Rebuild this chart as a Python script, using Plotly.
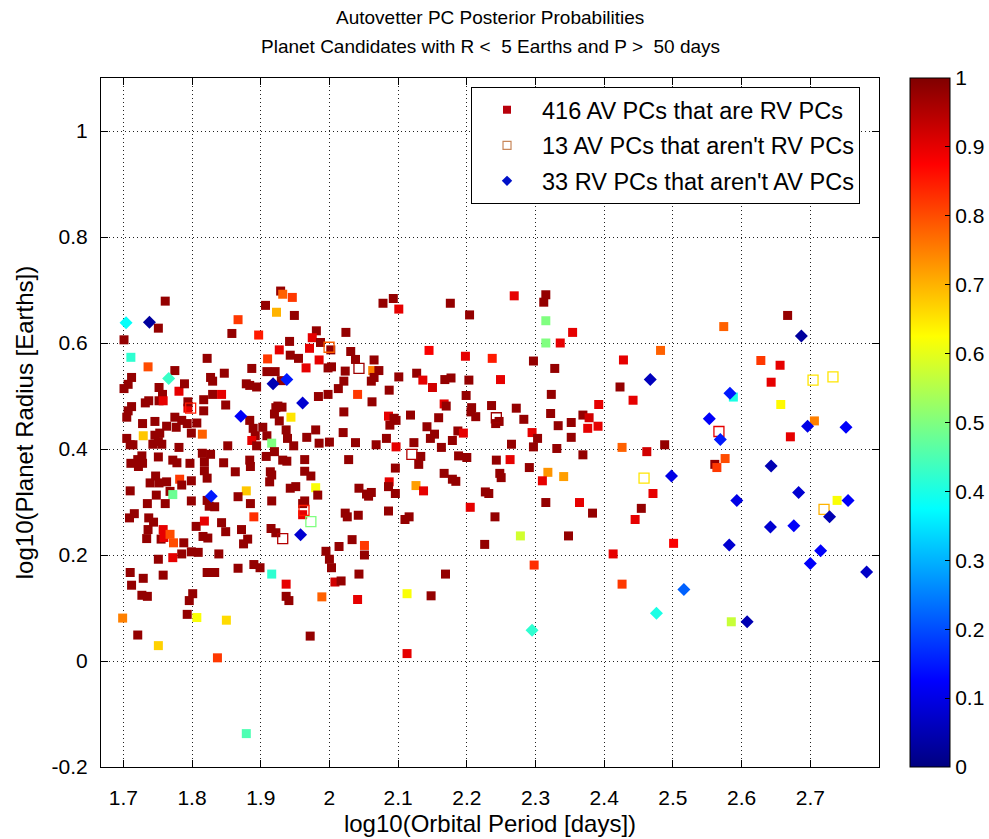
import plotly.graph_objects as go

D = 0.98
R = 0.9

# ---- filled squares: AV PCs that are RV PCs ----
sq_x = [
    1.761,1.751,1.701,1.711,1.736,1.775,1.712,1.707,1.701,1.752,
    1.781,1.789,1.757,1.752,1.758,1.732,1.737,1.712,1.707,1.705,
    1.794,1.794,1.884,1.775,1.785,1.822,1.847,1.827,1.830,1.830,
    1.843,1.849,1.817,1.817,1.867,1.858,1.897,1.887,1.879,1.884,
    1.894,1.929,1.932,1.946,1.907,1.923,1.949,1.942,1.927,1.910,
    1.943,1.955,1.966,1.909,1.921,1.930,1.922,1.925,1.931,1.920,
    1.927,1.944,1.981,1.975,1.987,1.971,1.985,2.002,1.998,2.003,
    2.024,2.031,2.038,2.023,2.021,2.013,1.984,1.998,2.041,2.021,
    2.078,2.093,2.101,2.176,2.204,2.269,2.315,2.312,2.315,2.315,
    2.336,2.354,2.145,2.198,2.237,2.297,2.328,2.428,2.065,2.063,
    2.072,2.065,2.061,2.101,2.127,2.136,2.150,2.168,2.177,2.203,
    2.249,2.087,2.062,2.199,2.167,2.170,2.207,2.206,2.213,2.236,
    2.272,2.283,2.323,2.322,2.392,2.369,2.378,2.086,2.094,2.097,
    2.118,2.159,2.423,
    2.482,2.442,2.574,2.667,2.588,2.628,2.656,2.643,2.657,2.706,
    1.728,1.746,1.763,1.777,1.793,1.807,1.889,1.892,1.903,1.909,
    1.887,1.894,1.937,1.939,1.948,1.916,1.920,1.967,1.980,1.985,
    2.000,2.020,2.038,1.705,1.710,1.714,1.729,1.746,1.753,1.751,
    1.743,1.756,1.781,1.799,1.815,1.852,1.815,1.827,1.818,1.818,
    1.822,1.846,1.863,1.884,1.885,1.908,1.914,1.913,1.916,1.932,
    1.938,1.964,1.964,1.973,2.028,2.043,2.054,1.711,1.721,1.727,
    1.728,1.722,1.751,1.772,1.778,1.797,1.747,1.739,1.752,1.763,
    1.782,1.785,1.799,1.710,1.768,1.772,1.748,1.735,1.761,1.799,
    1.822,1.825,1.833,1.879,1.867,1.885,1.916,1.943,1.951,1.980,
    1.983,1.964,1.961,1.961,1.915,1.922,1.709,1.716,1.737,1.744,
    1.758,1.736,1.734,1.755,1.759,1.768,1.773,1.788,1.785,1.799,
    1.809,1.772,1.751,1.806,1.818,1.816,1.823,1.843,1.849,1.839,
    1.890,1.872,1.881,1.875,1.995,2.000,2.014,2.033,2.023,2.026,
    2.042,2.051,2.051,
    2.088,2.142,2.153,2.147,2.187,2.195,2.179,2.242,2.247,2.295,
    2.303,2.333,2.352,2.352,2.376,2.391,2.083,2.068,2.097,2.123,
    2.133,2.130,2.163,2.188,2.200,2.265,2.297,2.331,2.243,2.263,
    2.291,2.248,2.250,2.369,2.318,2.341,2.310,2.096,2.167,2.179,
    2.184,2.087,2.086,2.126,2.137,2.096,2.061,2.057,2.227,2.232,
    2.315,2.364,2.383,2.205,2.086,2.110,2.116,2.241,2.278,2.348,
    2.226,2.413,2.426,
    2.671,2.488,2.462,2.561,2.576,2.564,2.471,2.454,2.445,2.739,2.501,
    1.710,1.729,1.712,1.758,1.727,1.735,1.796,1.801,1.793,1.807,
    1.850,1.699,1.721,1.751,1.837,1.879,1.822,1.833,1.867,1.890,
    1.899,1.916,1.937,1.937,1.941,1.989,1.972,2.003,2.008,2.017,
    2.043,2.041,
    2.169,2.113,2.148,2.113,2.298,2.426,2.585,
]
sq_y = [
    0.679,0.628,0.606,0.573,0.555,0.548,0.535,0.522,0.514,0.516,
    0.509,0.523,0.503,0.491,0.491,0.487,0.491,0.480,0.472,0.460,
    0.477,0.489,0.454,0.460,0.454,0.571,0.543,0.535,0.528,0.503,
    0.503,0.483,0.493,0.472,0.644,0.618,0.615,0.552,0.523,0.520,
    0.517,0.698,0.692,0.686,0.671,0.658,0.652,0.603,0.587,0.570,
    0.577,0.571,0.553,0.546,0.546,0.529,0.478,0.481,0.479,0.466,
    0.453,0.460,0.623,0.610,0.601,0.590,0.568,0.587,0.553,0.555,
    0.620,0.584,0.569,0.547,0.528,0.514,0.499,0.503,0.503,0.470,
    0.675,0.684,0.664,0.675,0.653,0.689,0.691,0.677,0.642,0.600,
    0.600,0.620,0.586,0.575,0.571,0.566,0.552,0.568,0.568,0.548,
    0.548,0.535,0.528,0.536,0.543,0.530,0.516,0.531,0.534,0.530,
    0.531,0.511,0.489,0.501,0.485,0.481,0.478,0.470,0.461,0.482,
    0.477,0.456,0.503,0.467,0.484,0.464,0.459,0.462,0.458,0.454,
    0.464,0.459,0.517,
    0.586,0.492,0.631,0.652,0.498,0.567,0.558,0.526,0.484,0.453,
    0.448,0.452,0.443,0.441,0.448,0.449,0.439,0.425,0.441,0.425,
    0.416,0.406,0.436,0.420,0.406,0.411,0.395,0.422,0.436,0.411,
    0.413,0.431,0.412,0.420,0.408,0.408,0.425,0.426,0.430,0.414,
    0.409,0.409,0.403,0.430,0.428,0.406,0.392,0.390,0.376,0.359,
    0.345,0.374,0.357,0.379,0.367,0.386,0.357,0.338,0.351,0.379,
    0.377,0.380,0.358,0.349,0.380,0.326,0.315,0.373,0.380,0.387,
    0.373,0.367,0.385,0.379,0.374,0.373,0.349,0.336,0.336,0.338,
    0.343,0.332,0.340,0.321,0.320,0.314,0.313,0.297,0.297,0.302,
    0.303,0.292,0.291,0.321,0.310,0.297,0.302,0.326,0.329,0.327,
    0.313,0.302,0.297,0.276,0.250,0.242,0.270,0.278,0.270,0.262,
    0.248,0.248,0.231,0.230,0.233,0.239,0.223,0.223,0.202,0.206,
    0.205,0.195,0.192,0.254,0.264,0.235,0.232,0.261,0.244,0.202,
    0.272,0.248,0.230,0.221,0.207,0.192,0.216,0.229,0.279,0.272,
    0.275,0.218,0.200,
    0.445,0.442,0.428,0.420,0.434,0.430,0.416,0.448,0.452,0.431,
    0.420,0.444,0.450,0.422,0.439,0.443,0.420,0.408,0.404,0.412,
    0.386,0.371,0.403,0.387,0.384,0.409,0.404,0.401,0.379,0.380,
    0.365,0.354,0.346,0.389,0.356,0.348,0.340,0.364,0.354,0.343,
    0.339,0.338,0.329,0.331,0.321,0.316,0.318,0.311,0.319,0.316,
    0.299,0.299,0.279,0.290,0.283,0.267,0.272,0.272,0.236,0.236,
    0.220,0.202,0.403,
    0.423,0.408,0.395,0.371,0.382,0.365,0.316,0.288,0.267,0.303,0.222,
    0.167,0.156,0.143,0.162,0.124,0.122,0.114,0.127,0.088,0.082,
    0.077,0.081,0.049,0.029,0.006,-0.137,0.167,0.167,0.175,0.182,
    0.176,0.164,0.145,0.122,0.114,0.121,0.047,0.176,0.149,0.151,
    0.164,0.116,
    0.164,0.127,0.123,0.014,0.181,0.145,0.074,
]
sq_p = [
    D,D,D,0.42,0.8,D,D,D,D,D,
    R,D,D,D,R,D,D,D,D,D,
    R,D,D,D,D,D,D,D,D,D,
    R,D,D,D,0.82,D,0.85,D,D,D,
    D,D,0.78,0.82,D,0.7,D,D,R,0.82,
    D,D,R,D,D,D,D,D,D,D,
    D,0.65,D,R,D,R,R,D,D,D,
    D,D,D,D,D,D,D,D,0.82,D,
    D,D,R,D,D,R,D,D,0.5,0.5,
    R,R,0.88,R,0.85,D,D,R,D,0.75,
    D,D,D,D,D,R,0.92,D,D,D,
    R,D,D,D,R,D,D,D,D,D,
    D,D,D,D,R,D,0.92,R,D,D,
    D,D,D,
    0.78,R,0.78,D,0.4,0.82,R,R,0.63,0.75,
    D,D,D,D,D,D,D,D,D,D,
    R,D,D,D,D,0.5,D,D,D,D,
    D,D,D,D,D,D,0.68,D,D,D,
    D,D,D,D,0.78,D,D,D,D,D,
    D,D,D,D,D,D,D,D,D,D,
    D,D,D,D,D,D,D,D,D,D,
    D,D,D,D,D,D,D,D,D,D,
    0.82,D,D,D,D,0.48,D,D,D,D,
    D,D,D,0.68,D,D,D,D,D,0.62,
    D,D,D,R,D,D,D,D,D,D,
    R,D,D,D,R,0.8,0.8,D,D,D,
    D,R,D,D,R,D,D,D,D,D,
    0.83,D,D,D,D,D,D,D,D,D,
    D,0.82,D,
    D,D,D,D,D,R,D,D,D,R,
    D,D,D,D,R,R,D,D,R,D,
    D,D,D,D,D,D,D,D,D,R,
    D,D,D,D,0.73,0.72,R,D,D,D,
    D,R,D,0.72,R,D,D,D,D,D,
    D,R,D,R,D,D,D,D,0.58,D,
    D,R,0.78,
    R,D,0.92,D,0.8,0.82,R,D,R,0.62,0.88,
    D,D,D,D,D,D,D,D,D,0.62,
    0.66,0.75,D,0.67,0.82,0.45,D,D,D,D,
    D,0.42,R,D,D,0.78,D,D,0.92,D,
    D,R,
    D,0.62,D,R,0.83,0.82,0.57,
]

# ---- open squares: AV PCs that aren't RV PCs ----
op_x = [1.798, 1.9995, 2.043, 2.243, 2.704, 2.733, 1.963, 1.973, 1.932, 2.120, 2.567, 2.458, 2.720]
op_y = [0.477, 0.592, 0.552, 0.459, 0.530, 0.536, 0.284, 0.263, 0.231, 0.390, 0.433, 0.345, 0.286]
op_p = [0.85, 0.78, 0.97, 0.97, 0.65, 0.65, 0.85, 0.5, 0.95, 0.95, 0.9, 0.65, 0.7]

# ---- diamonds: RV PCs that aren't AV PCs ----
dm_x = [1.704, 1.738, 1.766, 1.871, 1.918, 1.938, 1.961, 2.467, 2.687, 2.583, 2.553,
        1.828, 1.958, 2.569, 2.696, 2.752, 2.643, 2.498, 2.593, 2.683, 2.755, 2.728,
        2.642, 2.676, 2.582, 2.715, 2.295, 2.516, 2.476, 2.608, 2.700, 2.782]
dm_y = [0.638, 0.639, 0.533, 0.462, 0.523, 0.531, 0.487, 0.531, 0.613, 0.505, 0.457,
        0.311, 0.238, 0.418, 0.443, 0.441, 0.368, 0.349, 0.303, 0.318, 0.303, 0.272,
        0.253, 0.255, 0.219, 0.208, 0.058, 0.135, 0.090, 0.074, 0.184, 0.168]
dm_p = [0.38, 0.03, 0.43, 0.12, 0.05, 0.15, 0.08, 0.06, 0.03, 0.15, 0.12,
        0.15, 0.08, 0.15, 0.1, 0.12, 0.05, 0.1, 0.1, 0.08, 0.12, 0.05,
        0.08, 0.12, 0.08, 0.12, 0.42, 0.22, 0.4, 0.05, 0.12, 0.07]

title_lines = ["Autovetter PC Posterior Probabilities",
               "Planet Candidates with R &lt;\u00a0 5 Earths and P &gt;\u00a0 50 days"]
legend_names = ["416 AV PCs that are RV PCs",
                "13 AV PCs that aren't RV PCs",
                "33 RV PCs that aren't AV PCs"]

x_ticks = [1.7, 1.8, 1.9, 2.0, 2.1, 2.2, 2.3, 2.4, 2.5, 2.6, 2.7]
x_ticktext = ["1.7", "1.8", "1.9", "2", "2.1", "2.2", "2.3", "2.4", "2.5", "2.6", "2.7"]
y_ticks = [-0.2, 0.0, 0.2, 0.4, 0.6, 0.8, 1.0]
y_ticktext = ["-0.2", "0", "0.2", "0.4", "0.6", "0.8", "1"]
cb_ticks = [0, 0.1, 0.2, 0.3, 0.4, 0.5, 0.6, 0.7, 0.8, 0.9, 1.0]
cb_ticktext = ["0", "0.1", "0.2", "0.3", "0.4", "0.5", "0.6", "0.7", "0.8", "0.9", "1"]

jet = [[0.0, "rgb(0,0,128)"], [0.125, "rgb(0,0,255)"], [0.375, "rgb(0,255,255)"],
       [0.625, "rgb(255,255,0)"], [0.875, "rgb(255,0,0)"], [1.0, "rgb(128,0,0)"]]

FONT = "Liberation Sans, Arial, Helvetica, sans-serif"

fig = go.Figure()
fig.add_trace(go.Scatter(
    x=sq_x, y=sq_y, mode="markers", showlegend=False, hoverinfo="skip",
    marker=dict(symbol="square", size=9, color=sq_p, coloraxis="coloraxis",
                line=dict(width=0))))
fig.add_trace(go.Scatter(
    x=op_x, y=op_y, mode="markers", showlegend=False, hoverinfo="skip",
    marker=dict(symbol="square-open", size=10, color=op_p, coloraxis="coloraxis",
                line=dict(width=1.3))))
fig.add_trace(go.Scatter(
    x=dm_x, y=dm_y, mode="markers", showlegend=False, hoverinfo="skip",
    marker=dict(symbol="diamond", size=10, color=dm_p, coloraxis="coloraxis",
                line=dict(width=0))))

# legend swatches
fig.add_trace(go.Scatter(x=[None], y=[None], mode="markers", name=legend_names[0],
                         legendgroup="a",
                         marker=dict(symbol="square", size=8, color="#b8000c")))
fig.add_trace(go.Scatter(x=[None], y=[None], mode="markers", name=legend_names[1],
                         legendgroup="b",
                         marker=dict(symbol="square-open", size=8, color="#c8875a",
                                     line=dict(width=1.2))))
fig.add_trace(go.Scatter(x=[None], y=[None], mode="markers", name=legend_names[2],
                         legendgroup="c",
                         marker=dict(symbol="diamond", size=8, color="#0010c8")))

axis_common = dict(
    ticks="inside", ticklen=7, tickcolor="black", tickwidth=1,
    showline=True, linecolor="black", linewidth=1, mirror="ticks",
    showgrid=True, gridcolor="#222222", gridwidth=1, griddash="1px,3px",
    zeroline=False, tickfont=dict(size=21, family=FONT, color="black"),
)

fig.update_layout(
    width=989, height=839,
    margin=dict(l=101, r=110, t=78, b=72, autoexpand=False),
    paper_bgcolor="white", plot_bgcolor="white",
    font=dict(family=FONT, size=20, color="black"),
    xaxis=dict(range=[1.6675, 2.8], tickvals=x_ticks, ticktext=x_ticktext,
               title=dict(text="log10(Orbital Period [days])", standoff=6,
                          font=dict(size=24, family=FONT)),
               ticklabelstandoff=12, **axis_common),
    yaxis=dict(range=[-0.2, 1.1], tickvals=y_ticks, ticktext=y_ticktext,
               title=dict(text="log10(Planet Radius [Earths])", standoff=11,
                          font=dict(size=24, family=FONT)),
               ticklabelstandoff=8, **axis_common),
    coloraxis=dict(
        cmin=0, cmax=1, colorscale=jet,
        colorbar=dict(
            x=1.0398, xanchor="left", xref="paper",
            y=0.5, yanchor="middle", len=1.0, lenmode="fraction",
            thickness=40, thicknessmode="pixels",
            outlinewidth=1, outlinecolor="black",
            xpad=0, ypad=0,
            tickvals=cb_ticks, ticktext=cb_ticktext,
            ticks="inside", ticklen=5, tickcolor="black",
            tickfont=dict(size=21, family=FONT, color="black"),
        ),
    ),
    legend=dict(
        x=0.4756, y=0.987, xanchor="left", yanchor="top",
        bordercolor="black", borderwidth=1, bgcolor="white",
        font=dict(size=23.5, family=FONT, color="black"),
        tracegroupgap=2, traceorder="grouped", itemwidth=60,
    ),
    annotations=[
        dict(text=title_lines[0], xref="paper", yref="paper", x=0.5, y=1.0871,
             xanchor="center", yanchor="middle", showarrow=False,
             font=dict(size=19, family=FONT, color="black")),
        dict(text=title_lines[1], xref="paper", yref="paper", x=0.5, y=1.045,
             xanchor="center", yanchor="middle", showarrow=False,
             font=dict(size=19, family=FONT, color="black")),
    ],
)

fig.write_html("out.html", config={"displayModeBar": False},
               post_script="document.body.style.margin='0px';document.body.style.overflow='hidden';")
